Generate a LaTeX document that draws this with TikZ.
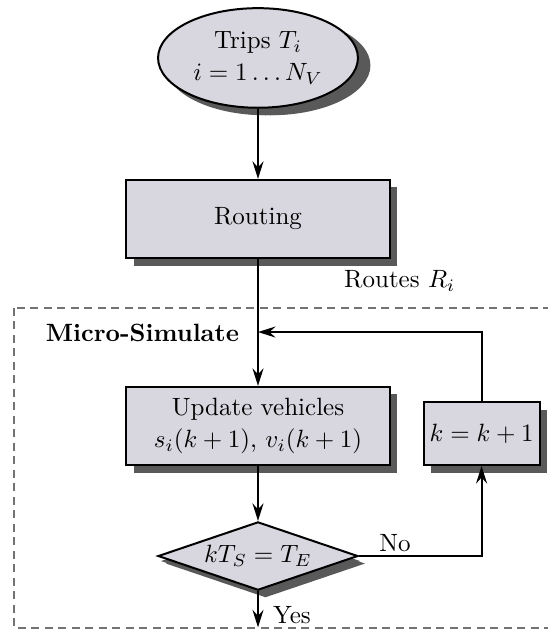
\documentclass[tikz,border=0pt]{standalone}
\usepackage{amsmath}
\usepackage{tikz}
\usetikzlibrary{shapes,arrows,arrows.meta,positioning,calc,shadows}
\definecolor{boxfill}{RGB}{216,214,222}

\begin{document}
\begin{tikzpicture}[
    procbox/.style={draw, line width=0.8pt, fill=boxfill, align=center, inner sep=0pt,
      drop shadow={shadow xshift=3pt, shadow yshift=-3pt, fill=black!65, opacity=1}},
    flowline/.style={line width=0.8pt, -{Stealth[length=7pt, width=4.4pt, inset=2.4pt]}},
  ]
    \useasboundingbox (0,0) rectangle (7.704,-8.857);
    % simulation frame
    \draw[black!55, line width=1pt, dash pattern=on 3.2pt off 2.2pt] (0.197,-4.330) rectangle (8.3,-8.829);
    \node[anchor=west, font=\bfseries] (simlabel) at (0.52,-4.682) {Micro-Simulate};

    \node[procbox, ellipse, minimum width=2.81cm, minimum height=1.40cm,
      drop shadow={shadow xshift=5pt, shadow yshift=-3pt, fill=black!65, opacity=1}] (trips) at (3.627,-0.815) {Trips $T_i$\\[1pt] $i = 1\ldots N_V$};
    \node[procbox, minimum width=3.71cm, minimum height=1.10cm] (routing) at (3.627,-3.079) {Routing};
    \node[procbox, minimum width=3.71cm, minimum height=1.10cm] (update) at (3.627,-5.989) {Update vehicles\\[1pt] $s_i(k+1)$, $v_i(k+1)$};
    \node[procbox, diamond, aspect=2.94, minimum width=2.81cm, minimum height=0.96cm,
      drop shadow={shadow xshift=1pt, shadow yshift=-2pt, fill=black!65, opacity=1}] (test) at (3.627,-7.817) {$kT_S = T_E$};
    \node[procbox, minimum width=1.63cm, minimum height=0.886cm] (incr) at (6.77,-6.095) {$k = k+1$};

    \node (routes) at (5.62,-3.95) {Routes $R_i$};
    \node (no) at (5.553,-7.634) {No};
    \node (yes) at (4.105,-8.646) {Yes};

    \coordinate (join) at (3.627,-4.668);
    \coordinate (out) at (3.627,-8.82);

    \draw[flowline] (trips) -- (routing);
    \draw[flowline] (routing) -- (update);
    \draw[flowline] (update) -- (test);
    \draw[flowline] (test.east) -| (incr.south);
    \draw[flowline] (incr.north) |- (join);
    \draw[flowline] (test) -- (out);
\end{tikzpicture}
\end{document}
